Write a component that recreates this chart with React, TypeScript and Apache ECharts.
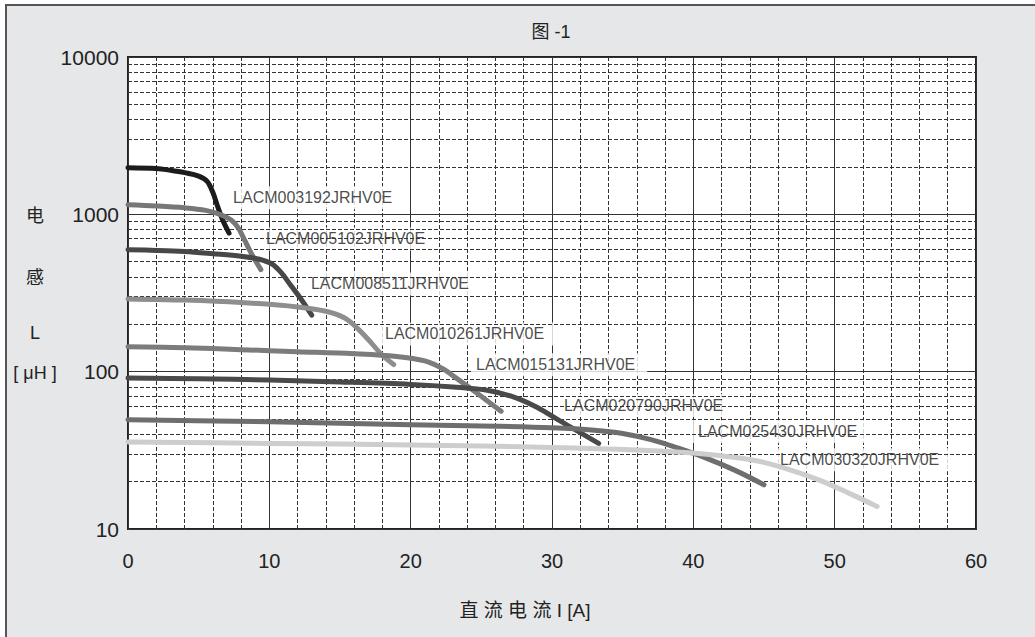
import React, { useEffect, useRef } from "react";
import * as echarts from "echarts";

const seriesNames = [
  "LACM003192JRHV0E",
  "LACM005102JRHV0E",
  "LACM008511JRHV0E",
  "LACM010261JRHV0E",
  "LACM015131JRHV0E",
  "LACM020790JRHV0E",
  "LACM025430JRHV0E",
  "LACM030320JRHV0E",
];

const s003192: number[][] = [[0, 1980], [2, 1955], [3, 1905], [4, 1840], [5, 1750], [5.6, 1620], [6.0, 1380], [6.3, 1150], [6.7, 920], [7.15, 760]];
const s005102: number[][] = [[0, 1150], [2, 1130], [4, 1100], [5.5, 1060], [6.5, 1000], [7.3, 920], [7.8, 820], [8.2, 700], [8.75, 560], [9.4, 445]];
const s008511: number[][] = [[0, 596], [2, 590], [4, 580], [6, 562], [8, 542], [9.3, 518], [10.2, 482], [10.9, 420], [11.5, 355], [12.2, 293], [13.0, 229]];
const s010261: number[][] = [[0, 290], [4, 285], [8, 275], [12, 258], [14, 242], [15.3, 220], [16.2, 190], [17, 160], [18, 127], [18.8, 111]];
const s015131: number[][] = [[0, 144], [4, 142], [8, 138], [12, 134], [16, 130], [19, 125], [21, 117], [22.3, 104], [23.3, 90], [24.7, 73], [26.4, 56]];
const s020790: number[][] = [[0, 91], [5, 90], [10, 88.5], [15, 86], [20, 83], [23, 80], [25.5, 76], [27.5, 68], [29, 59], [30.5, 49], [32, 41], [33.3, 35]];
const s025430: number[][] = [[0, 49.5], [10, 48], [20, 46], [26, 45], [30, 44], [33, 42.5], [35, 40.5], [37, 37], [39, 32.5], [41, 28], [43, 23.5], [45, 19.1]];
const s030320: number[][] = [[0, 35.7], [10, 35], [20, 34.2], [30, 33], [36, 31.8], [40, 30.4], [43, 28.5], [45, 26.5], [47, 23.5], [49, 20.3], [51, 16.9], [53, 13.9]];

const seriesData = [s003192, s005102, s008511, s010261, s015131, s020790, s025430, s030320];
const seriesColors = ["#1c1c1c", "#777777", "#474747", "#8e8e8e", "#7c7c7c", "#4a4a4a", "#6e6e6e", "#cdcdcd"];

// label anchors (left edge of label box, vertical centre)
const labelX = [7.08, 9.41, 12.59, 17.83, 24.27, 30.5, 39.98, 45.78];
const labelY = [1275, 697, 361, 173.8, 110.6, 60.9, 41.7, 27.6];

const yTicks = [10, 100, 1000, 10000];
const yMinorLines = [20, 30, 40, 50, 60, 70, 80, 90, 200, 300, 400, 500, 600, 700, 800, 900, 2000, 3000, 4000, 5000, 6000, 7000, 8000, 9000];

const titleText = "图 -1";
const xName = "直 流 电 流 I [A]";
const yNameParts = ["电", "感", "L", "[ μH ]"];

const FONT = "'Liberation Sans', Arial, 'Noto Sans CJK SC', sans-serif";

export default function App() {
  const ref = useRef<HTMLDivElement>(null);
  useEffect(() => {
    if (!ref.current) return;
    const chart = echarts.init(ref.current, undefined, { renderer: "svg" });
    const lineSeries = seriesData.map((d, i) => ({
      type: "line",
      name: seriesNames[i],
      data: d,
      smooth: 0.35,
      showSymbol: false,
      symbol: "none",
      z: 5,
      lineStyle: { color: seriesColors[i], width: 5, cap: "round", join: "round" },
    }));
    const labelSeries = {
      type: "scatter",
      symbolSize: 0,
      z: 3,
      silent: true,
      data: labelX.map((x, i) => ({ value: [x, labelY[i]], name: seriesNames[i] })),
      label: {
        show: true,
        position: "right",
        distance: 0,
        formatter: (p: any) => p.name,
        fontFamily: FONT,
        fontSize: 16,
        color: "#1a1a1a",
        backgroundColor: "#ffffff",
        padding: [4, 12, 3, 5],
      },
    };
    const minorSeries = {
      type: "line",
      data: [],
      z: 1,
      silent: true,
      markLine: {
        silent: true,
        symbol: "none",
        animation: false,
        label: { show: false },
        lineStyle: { color: "#333", width: 1, type: [4, 2] },
        data: yMinorLines.map((v) => ({ yAxis: v })),
      },
    };
    const yNameY = [216, 278, 333, 373];
    chart.setOption({
      animation: false,
      backgroundColor: "transparent",
      grid: {
        left: 128,
        top: 57,
        width: 848,
        height: 472,
        show: true,
        backgroundColor: "#ffffff",
        borderColor: "#222",
        borderWidth: 2,
      },
      xAxis: {
        type: "value",
        min: 0,
        max: 60,
        interval: 10,
        axisLine: { show: false },
        axisTick: { show: false },
        axisLabel: { fontFamily: FONT, fontSize: 20, color: "#222", margin: 22 },
        splitLine: { show: true, lineStyle: { color: "#333", width: 1 } },
        minorTick: { show: false, splitNumber: 5 },
        minorSplitLine: { show: true, lineStyle: { color: "#333", width: 1, type: [4, 2] } },
      },
      yAxis: {
        type: "log",
        logBase: 10,
        min: 10,
        max: 10000,
        axisLine: { show: false },
        axisTick: { show: false },
        axisLabel: {
          fontFamily: FONT,
          fontSize: 21,
          color: "#222",
          margin: 9,
          formatter: (v: number) => (yTicks.includes(Math.round(v)) ? String(Math.round(v)) : ""),
        },
        splitLine: { show: true, lineStyle: { color: "#333", width: 1 } },
      },
      graphic: [
        {
          type: "text",
          x: 551,
          y: 32,
          style: { text: titleText, font: `18px ${FONT}`, fill: "#222", textAlign: "center", textVerticalAlign: "middle" },
        },
        {
          type: "text",
          x: 525,
          y: 610,
          style: { text: xName, font: `19px ${FONT}`, fill: "#222", textAlign: "center", textVerticalAlign: "middle" },
        },
        ...yNameParts.map((t, i) => ({
          type: "text",
          x: 35,
          y: yNameY[i],
          style: { text: t, font: `18px ${FONT}`, fill: "#222", textAlign: "center", textVerticalAlign: "middle" },
        })),
      ],
      series: [minorSeries, labelSeries, ...lineSeries],
    });
    return () => chart.dispose();
  }, []);
  return (
    <div style={{ position: "fixed", left: 0, top: 0, width: 1035, height: 637, background: "#ffffff", overflow: "hidden" }}>
      <div
        style={{
          position: "absolute",
          left: 5,
          top: 4,
          width: 1040,
          height: 640,
          background: "#e6e7e9",
          borderLeft: "2px solid #555",
          borderTop: "2px solid #555",
        }}
      />
      <div ref={ref} style={{ position: "absolute", left: 0, top: 0, width: 1035, height: 637 }} />
    </div>
  );
}
